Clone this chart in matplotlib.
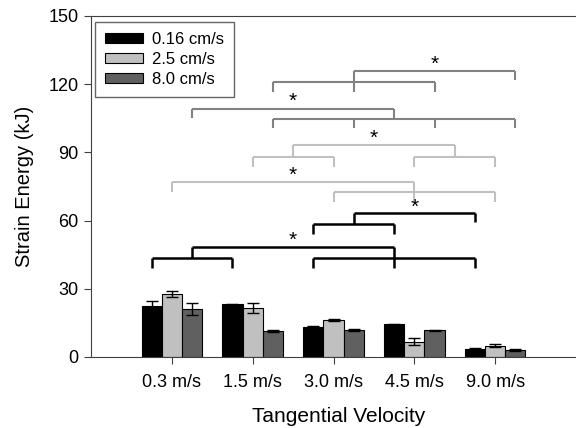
import numpy as np
import matplotlib.pyplot as plt

plt.rcParams['font.family'] = ['Liberation Sans', 'DejaVu Sans']

velocities = ['0.3 m/s', '1.5 m/s', '3.0 m/s', '4.5 m/s', '9.0 m/s']
rates = ['0.16 cm/s', '2.5 cm/s', '8.0 cm/s']

# strain energy (kJ) and error bars, one list per loading rate
e_016 = [22.4, 23.2, 13.3, 14.4, 3.5]
e_25 = [27.6, 21.4, 16.1, 6.7, 5.0]
e_80 = [21.1, 11.4, 11.7, 11.7, 3.1]
err_016 = [2.4, 0.3, 0.2, 0.2, 0.3]
err_25 = [1.3, 2.2, 0.5, 1.5, 0.5]
err_80 = [2.6, 0.3, 0.4, 0.3, 0.3]

bar_colors = ['#000000', '#c0c0c0', '#606060']
line_colors = ['#000000', '#c0c0c0', '#828282']

# significance brackets: (series, legs as (group, series), top, leg bottoms, star y)
# fractional group = midpoint of a lower bracket
brackets = [
    # black
    (0, [(0, 0), (1, 0)], 43.7, [39.3, 39.3], None),
    (0, [(2, 0), (3, 0), (4, 0)], 43.7, [39.3, 39.3, 39.3], None),
    (0, [(0.5, 0), (3, 0)], 48.3, [43.7, 43.7], 51.5),
    (0, [(2, 0), (3, 0)], 58.5, [54.0, 54.0], None),
    (0, [(2.5, 0), (4, 0)], 63.2, [58.5, 59.3], 66.0),
    # light gray
    (1, [(0, 1), (3, 1)], 77.1, [72.7, 72.4], 80.0),
    (1, [(2, 1), (3, 1), (4, 1)], 72.4, [68.0, 68.0, 68.0], None),
    (1, [(1, 1), (2, 1)], 88.1, [83.7, 83.7], None),
    (1, [(3, 1), (4, 1)], 88.1, [83.7, 83.7], None),
    (1, [(1.5, 1), (3.5, 1)], 93.0, [88.1, 88.1], 96.0),
    # dark gray
    (2, [(1, 2), (2, 2), (3, 2), (4, 2)], 104.7, [100.6, 100.6, 100.6, 100.6], None),
    (2, [(0, 2), (2.5, 2)], 109.1, [105.0, 104.7], 112.3),
    (2, [(1, 2), (2, 2), (3, 2)], 121.1, [116.7, 116.7, 116.7], None),
    (2, [(2, 2), (4, 2)], 125.8, [121.1, 121.6], 128.8),
]

x = np.arange(1, len(velocities) + 1)
w = 0.25

fig = plt.figure(figsize=(5.76, 4.28), dpi=100)
ax = fig.add_axes([0.158, 0.166, 0.842, 0.797])

vals = [e_016, e_25, e_80]
errs = [err_016, err_25, err_80]
for i in range(3):
    ax.bar(x + (i - 1) * w, vals[i], w, yerr=errs[i], color=bar_colors[i],
           edgecolor='black', linewidth=0.8, label=rates[i],
           error_kw=dict(ecolor='black', elinewidth=1, capsize=4, capthick=1))

for s, legs, top, bots, star in brackets:
    xs = [g + 1 + (ser - 1) * w for g, ser in legs]
    lw = 1.8 if s == 0 else 1.5
    ax.plot([min(xs), max(xs)], [top, top], color=line_colors[s], lw=lw,
            solid_capstyle='butt')
    for xx, b in zip(xs, bots):
        ax.plot([xx, xx], [b, top], color=line_colors[s], lw=lw,
                solid_capstyle='butt')
    if star is not None:
        ax.text((min(xs) + max(xs)) / 2, star, '*', ha='center', va='center',
                fontsize=15, color='black')

ax.set_xlim(0, 6)
ax.set_ylim(0, 150)
ax.set_yticks([0, 30, 60, 90, 120, 150])
ax.set_xticks(x)
ax.set_xticklabels(velocities)
ax.tick_params(axis='both', labelsize=13, direction='out', length=5,
               color='#404040')
ax.tick_params(axis='x', pad=7)
ax.tick_params(axis='y', pad=4)
ax.spines['right'].set_visible(False)
for sp in ['left', 'bottom', 'top']:
    ax.spines[sp].set_color('#404040')
ax.set_xlabel('Tangential Velocity', fontsize=15)
ax.set_ylabel('Strain Energy (kJ)', fontsize=14.5)
ax.xaxis.set_label_coords(0.51, -0.148)
ax.yaxis.set_label_coords(-0.118, 0.5)

leg = ax.legend(loc='upper left', fontsize=12, frameon=True, fancybox=False,
                edgecolor='#404040', handlelength=2.3, handleheight=0.6,
                handletextpad=0.55, borderpad=0.6, labelspacing=0.3,
                borderaxespad=0, bbox_to_anchor=(0.008, 0.982))
leg.get_frame().set_linewidth(1)

plt.savefig('out.png', dpi=100)
